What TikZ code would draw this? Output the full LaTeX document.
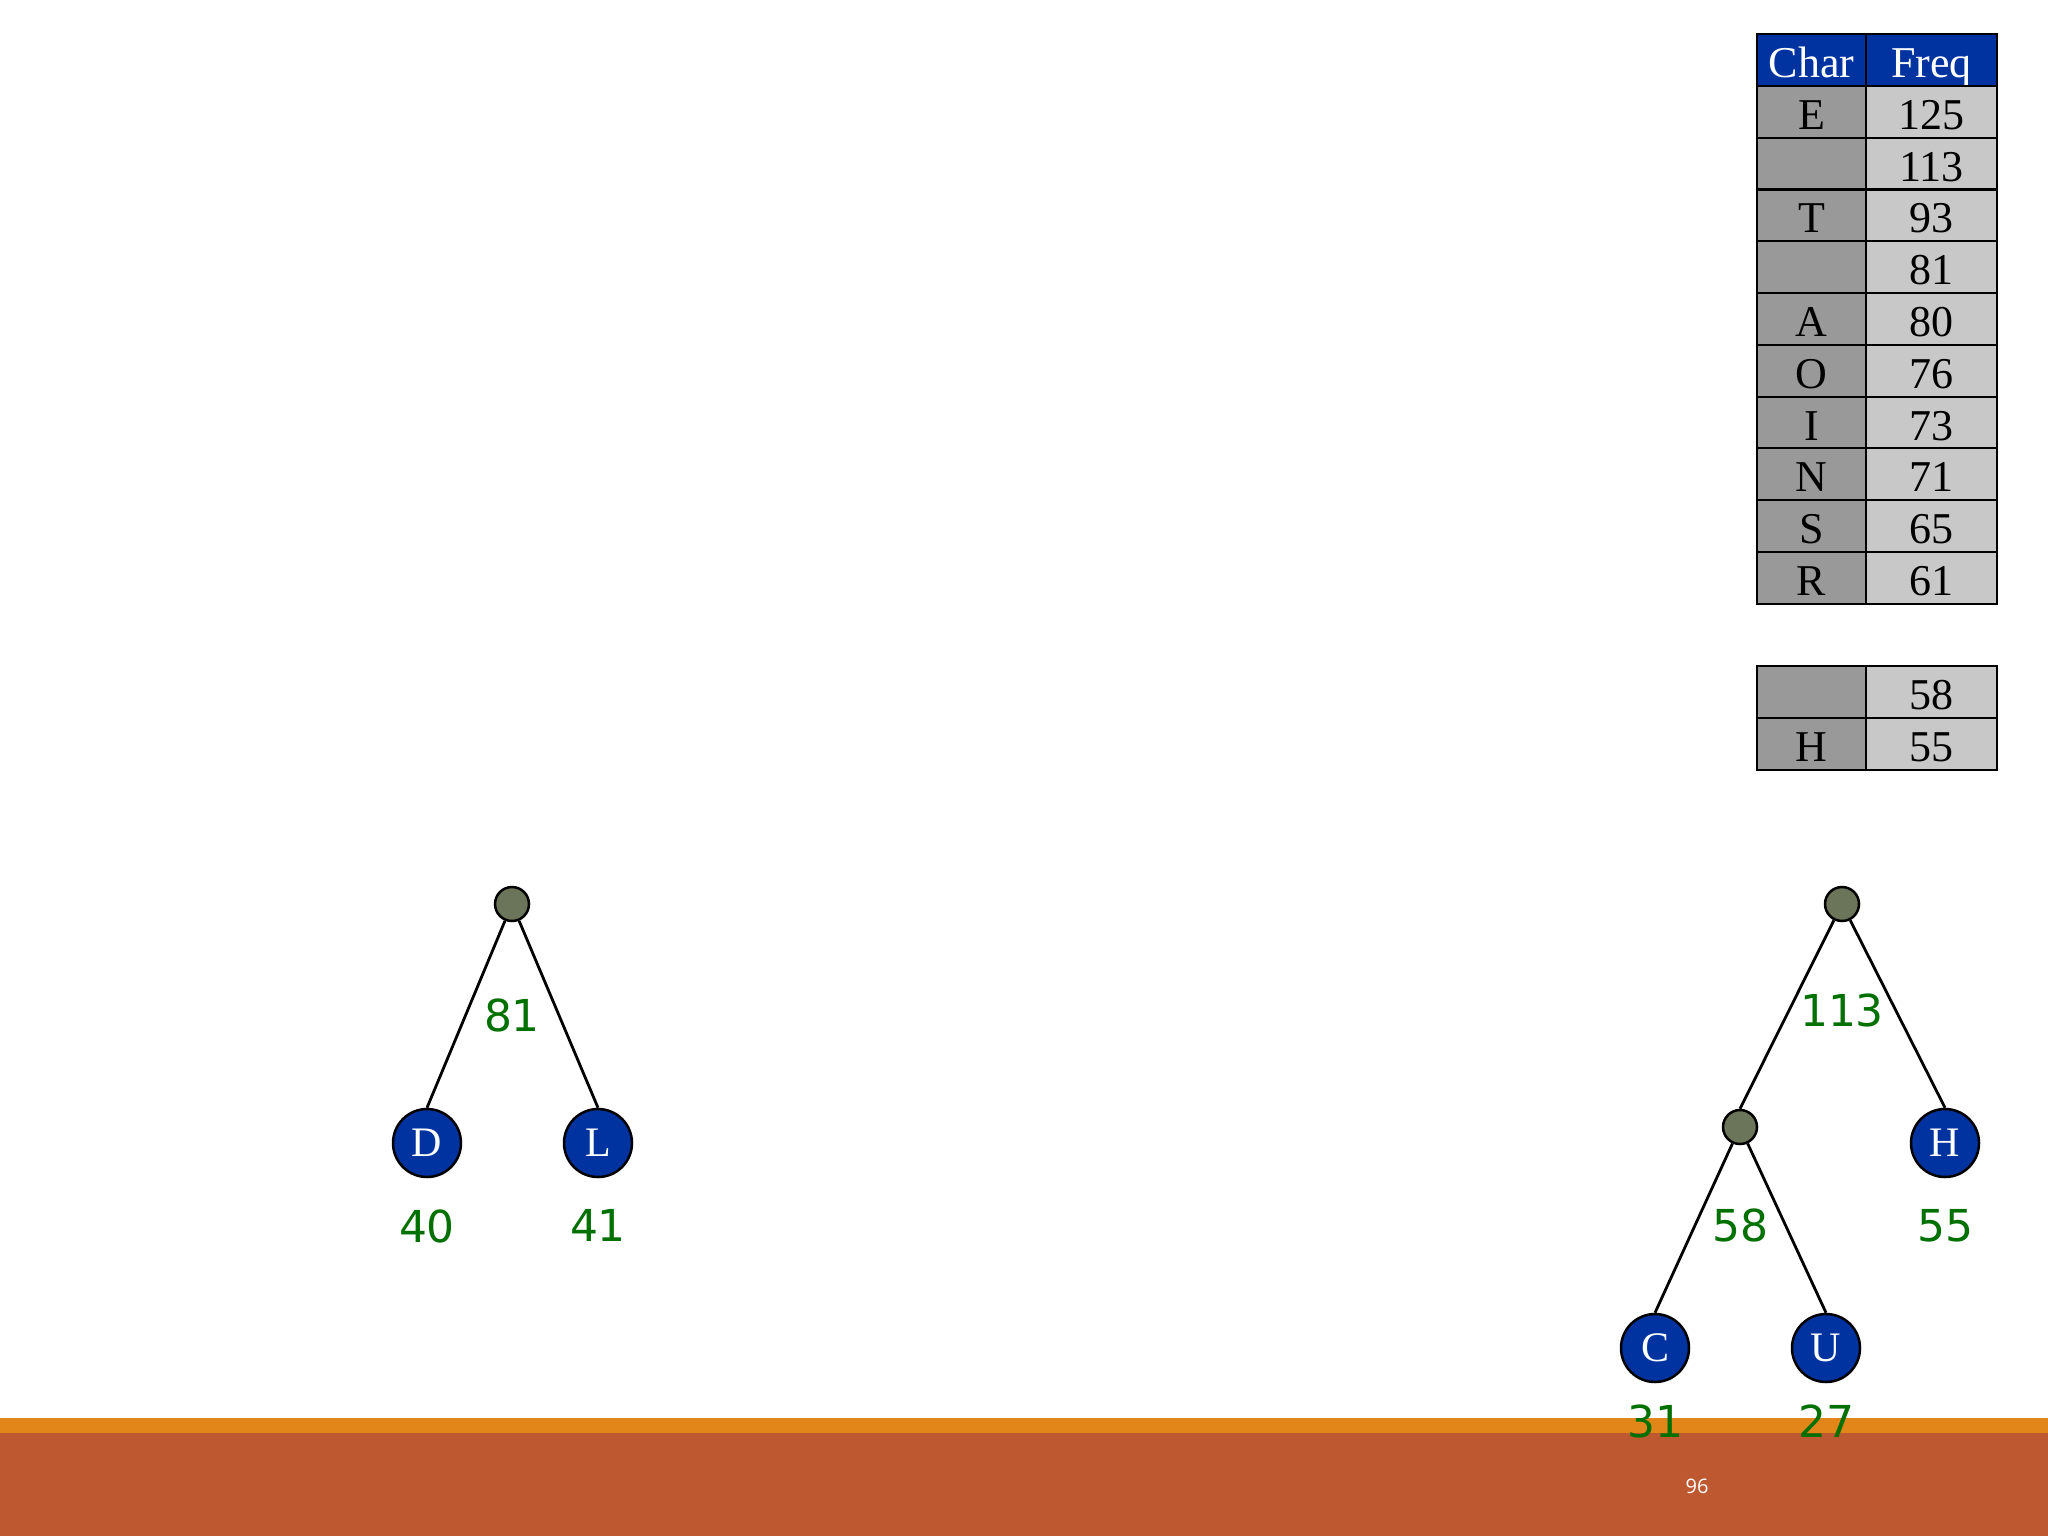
\documentclass[tikz,border=0pt]{standalone}
\usepackage{fontspec}
\setmainfont{Liberation Serif}
\newfontfamily\cntfont{DejaVu Sans}
\newfontfamily\pgfont{Open Sans}
\usepackage{tikz}
\usetikzlibrary{positioning,calc}
\definecolor{leafblue}{RGB}{0,51,160}
\definecolor{innergray}{RGB}{107,117,89}
\definecolor{cntgreen}{RGB}{0,112,0}
\definecolor{chargray}{RGB}{153,153,153}
\definecolor{freqgray}{RGB}{200,200,200}
\definecolor{barorange}{RGB}{227,134,26}
\definecolor{barrust}{RGB}{190,88,48}
\tikzset{
  leaf/.style   = {circle, draw=black, line width=2.5pt, fill=leafblue,
                   text=white, minimum size=68pt, inner sep=0pt,
                   font=\fontsize{42}{42}\selectfont},
  inode/.style  = {circle, draw=black, line width=2.5pt, fill=innergray,
                   minimum size=34pt, inner sep=0pt},
  cnt/.style    = {text=cntgreen, inner sep=0pt,
                   font=\cntfont\fontsize{44}{44}\selectfont},
  branch/.style = {line width=2.8pt, draw=black},
  cell/.style   = {rectangle, draw=black, line width=2pt, inner sep=0pt,
                   outer sep=0pt, anchor=north west, minimum height=51.8pt,
                   text height=35pt, text depth=0pt,
                   font=\fontsize{44}{44}\selectfont},
  chr/.style    = {cell, fill=chargray, minimum width=109pt},
  frq/.style    = {cell, fill=freqgray, minimum width=131pt},
  hdr/.style    = {fill=leafblue, text=white},
  pgnum/.style  = {text=white, inner sep=0pt,
                   font=\pgfont\fontsize{20}{20}\selectfont}
}

\begin{document}
\begin{tikzpicture}[x=1pt, y=-1pt]
    \fill[white] (0,0) rectangle (2048,1536);
    \useasboundingbox (0,0) rectangle (2048,1536);

    % ---- Footer bar ----
    \fill[barrust] (0,1433) rectangle (2048,1536);
    \fill[barorange] (0,1418) rectangle (2048,1433);
    \node[pgnum] (pg) at (1697,1486) {96};

    % ---- Frequency table ----
    \node[chr, hdr] (hc) at (1757,34) {Char};
    \node[frq, hdr] (hf) at (1866,34) {Freq};
    \foreach \ch/\fq [count=\i] in {E/125, {}/113, T/93, {}/81, A/80,
                                    O/76, I/73, N/71, S/65, R/61} {
      \node[chr] (c\i) at (1757,{34+\i*51.8}) {\ch};
      \node[frq] (f\i) at (1866,{34+\i*51.8}) {\fq};
    }
    \draw[line width=3.5pt] (c2.south west) -- (f2.south east);

    % ---- Remaining entries ----
    \node[chr] (c11) at (1757,666) {};
    \node[frq] (f11) at (1866,666) {58};
    \node[chr] (c12) at (1757,717.8) {H};
    \node[frq] (f12) at (1866,717.8) {55};

    % ---- Tree 81 ----
    \node[inode] (r81) at (512,904) {};
    \node[leaf] (lD) at (427,1143) {D};
    \node[leaf] (lL) at (598,1143) {L};
    \node[cnt] (w81) at (512,1015) {81};
    \node[cnt, below=31pt of lD] (wD) {40};
    \node[cnt, below=31pt of lL] (wL) {41};

    % ---- Tree 113 ----
    \node[inode] (r113) at (1842,904) {};
    \node[inode] (n58) at (1740,1127) {};
    \node[leaf] (lH) at (1945,1143) {H};
    \node[leaf] (lC) at (1655,1348) {C};
    \node[leaf] (lU) at (1826,1348) {U};
    \node[cnt] (w113) at (1842,1010) {113};
    \node[cnt] (w58) at (1740,1225) {58};
    \node[cnt, below=31pt of lH] (wH) {55};
    \node[cnt, below=21pt of lC] (wC) {31};
    \node[cnt, below=21pt of lU] (wU) {27};

    % ---- Branches ----
    \draw[branch] (r81) -- (lD.north);
    \draw[branch] (r81) -- (lL.north);
    \draw[branch] (r113) -- (n58.north);
    \draw[branch] (r113) -- (lH.north);
    \draw[branch] (n58) -- (lC.north);
    \draw[branch] (n58) -- (lU.north);
\end{tikzpicture}
\end{document}
